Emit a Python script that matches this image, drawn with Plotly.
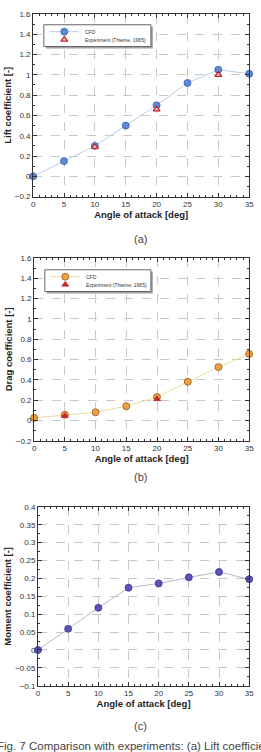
import plotly.graph_objects as go

angles = [0, 5, 10, 15, 20, 25, 30, 35]
lift_cfd = [0.0, 0.15, 0.30, 0.50, 0.70, 0.92, 1.05, 1.01]
lift_exp_x = [10, 20, 30]
lift_exp = [0.29, 0.66, 1.00]
drag_cfd = [0.025, 0.055, 0.08, 0.14, 0.23, 0.38, 0.525, 0.655]
drag_exp_x = [5, 20]
drag_exp = [0.045, 0.21]
moment_cfd = [0.0, 0.059, 0.118, 0.174, 0.186, 0.203, 0.218, 0.198]

legend_labels = ["CFD", "Experiment (Thieme, 1965)"]

W, H = 261, 752
def px(v): return v / W
def py(v): return (H - v) / H

styles = {
    "lift_cfd": dict(line=dict(color="#b9cde9", width=1),
                     marker=dict(size=7, color="#5d8ad8", line=dict(color="#3a5fa8", width=0.8))),
    "lift_exp": dict(marker=dict(size=6, symbol="triangle-up", color="#f3c6c6", line=dict(color="#c8202a", width=1.2))),
    "drag_cfd": dict(line=dict(color="#ebdc9c", width=1),
                     marker=dict(size=7, color="#f0a040", line=dict(color="#8a5a20", width=0.8))),
    "drag_exp": dict(marker=dict(size=6, symbol="triangle-up", color="#c0282c", line=dict(color="#d02a2a", width=1))),
    "mom_cfd": dict(line=dict(color="#b8b8cc", width=1),
                    marker=dict(size=7, color="#5b52b8", line=dict(color="#3a3490", width=0.8))),
}

# panel geometry in pixels: (left, right, top, bottom), ranges
panels = {
    "a": dict(box=(32, 254, 10, 195), yr=[-0.2, 1.6]),
    "b": dict(box=(33, 254, 257, 442), yr=[-0.2, 1.6]),
    "c": dict(box=(37, 254, 509, 690), yr=[-0.1, 0.4]),
}

def to_data(panel, x, y):
    l, r, t, b = panels[panel]["box"]
    y0, y1 = panels[panel]["yr"]
    return (x - l) / (r - l) * 35, y1 - (y - t) / (b - t) * (y1 - y0)

fig = go.Figure()
fig.add_trace(go.Scatter(x=angles, y=lift_cfd, mode="lines+markers", cliponaxis=False,
                         xaxis="x", yaxis="y", **styles["lift_cfd"]))
fig.add_trace(go.Scatter(x=lift_exp_x, y=lift_exp, mode="markers", cliponaxis=False,
                         xaxis="x", yaxis="y", **styles["lift_exp"]))
fig.add_trace(go.Scatter(x=angles, y=drag_cfd, mode="lines+markers", cliponaxis=False,
                         xaxis="x2", yaxis="y2", **styles["drag_cfd"]))
fig.add_trace(go.Scatter(x=drag_exp_x, y=drag_exp, mode="markers", cliponaxis=False,
                         xaxis="x2", yaxis="y2", **styles["drag_exp"]))
fig.add_trace(go.Scatter(x=angles, y=moment_cfd, mode="lines+markers", cliponaxis=False,
                         xaxis="x3", yaxis="y3", **styles["mom_cfd"]))

tickfont = dict(family="Liberation Sans, Arial", size=8, color="#333")
titlefont = dict(family="Liberation Sans, Arial", size=9.5, color="#222", weight="bold")

def xax(p, anchor):
    l, r, t, b = panels[p]["box"]
    return dict(domain=[px(l), px(r)], anchor=anchor, range=[0, 35], dtick=5, tick0=0,
                showgrid=True, gridcolor="#c8c8c8", griddash="dash", gridwidth=1,
                zeroline=False, showline=True, linecolor="#333", linewidth=1, mirror="ticks",
                ticks="inside", ticklen=4, tickcolor="#333", tickfont=tickfont,
                minor=dict(dtick=1, ticks="inside", ticklen=2, tickcolor="#333", showgrid=False),
                title=dict(text="Angle of attack [deg]", font=titlefont, standoff=2))

def yax(p, anchor, dt, mdt, title):
    l, r, t, b = panels[p]["box"]
    return dict(domain=[py(b), py(t)], anchor=anchor, range=panels[p]["yr"], dtick=dt, tick0=0,
                showgrid=True, gridcolor="#c8c8c8", griddash="dash", gridwidth=1,
                zeroline=False, showline=True, linecolor="#333", linewidth=1, mirror="ticks",
                ticks="inside", ticklen=4, tickcolor="#333", tickfont=tickfont,
                minor=dict(dtick=mdt, ticks="inside", ticklen=2, tickcolor="#333", showgrid=False),
                title=dict(text=title, font=titlefont, standoff=1))

fig.update_layout(
    width=W, height=H, margin=dict(l=0, r=0, t=0, b=0),
    paper_bgcolor="white", plot_bgcolor="white", showlegend=False,
    xaxis=xax("a", "y"),
    yaxis=yax("a", "x", 0.2, 0.1, "Lift coefficient [-]"),
    xaxis2=xax("b", "y2"),
    yaxis2=yax("b", "x2", 0.2, 0.1, "Drag coefficient [-]"),
    xaxis3=xax("c", "y3"),
    yaxis3=yax("c", "x3", 0.05, 0.025, "Moment coefficient [-]"),
)

# manual legends (box with shadow), drawn in each panel's own axes
legfont = dict(family="Liberation Sans, Arial", size=5, color="#333")
for p, (x0, y0, x1, y1), cfd_key, exp_key, ax in [("a", (43, 21, 153, 43), "lift_cfd", "lift_exp", ("x", "y")),
                                                 ("b", (44, 269, 153, 291), "drag_cfd", "drag_exp", ("x2", "y2"))]:
    xr, yr = ax
    sx0, sy0 = to_data(p, x0 + 2, y0 + 2)
    sx1, sy1 = to_data(p, x1 + 2, y1 + 2)
    fig.add_shape(type="rect", xref=xr, yref=yr, x0=sx0, x1=sx1, y0=sy1, y1=sy0,
                  fillcolor="#a0a0a0", line=dict(width=0), layer="between")
    bx0, by0 = to_data(p, x0, y0)
    bx1, by1 = to_data(p, x1, y1)
    fig.add_shape(type="rect", xref=xr, yref=yr, x0=bx0, x1=bx1, y0=by1, y1=by0,
                  fillcolor="white", line=dict(color="#666", width=1), layer="between")
    r1 = y0 + 7
    r2 = y0 + 15
    la, ly = to_data(p, x0 + 6, r1)
    lb, _ = to_data(p, x0 + 36, r1)
    mx, _ = to_data(p, x0 + 21, r1)
    _, ly2 = to_data(p, x0 + 21, r2)
    fig.add_trace(go.Scatter(x=[la, lb], y=[ly, ly], mode="lines", line=styles[cfd_key]["line"],
                             xaxis=xr, yaxis=yr, hoverinfo="skip"))
    fig.add_trace(go.Scatter(x=[mx], y=[ly], mode="markers", marker=styles[cfd_key]["marker"],
                             xaxis=xr, yaxis=yr, hoverinfo="skip"))
    fig.add_trace(go.Scatter(x=[mx], y=[ly2], mode="markers", marker=styles[exp_key]["marker"],
                             xaxis=xr, yaxis=yr, hoverinfo="skip"))
    for lab, rr in zip(legend_labels, [r1, r2]):
        fig.add_annotation(text=lab, x=px(x0 + 40), y=py(rr), xref="paper", yref="paper",
                           showarrow=False, font=legfont, xanchor="left", yanchor="middle")

capfont = dict(family="Liberation Sans, Arial", size=11, color="#444")
for lab, yy in [("(a)", 238), ("(b)", 479), ("(c)", 731)]:
    fig.add_annotation(text=lab, x=px(142), y=py(yy), xref="paper", yref="paper",
                       showarrow=False, font=capfont, xanchor="center", yanchor="middle")
fig.add_annotation(text="Fig. 7 Comparison with experiments: (a) Lift coefficient, (b) Drag coefficient, (c) Moment coefficient",
                   x=px(-7), y=py(751), xref="paper", yref="paper", showarrow=False,
                   font=dict(family="Liberation Sans, Arial", size=11.5, color="#444"),
                   xanchor="left", yanchor="middle")

fig.write_html("out.html")
